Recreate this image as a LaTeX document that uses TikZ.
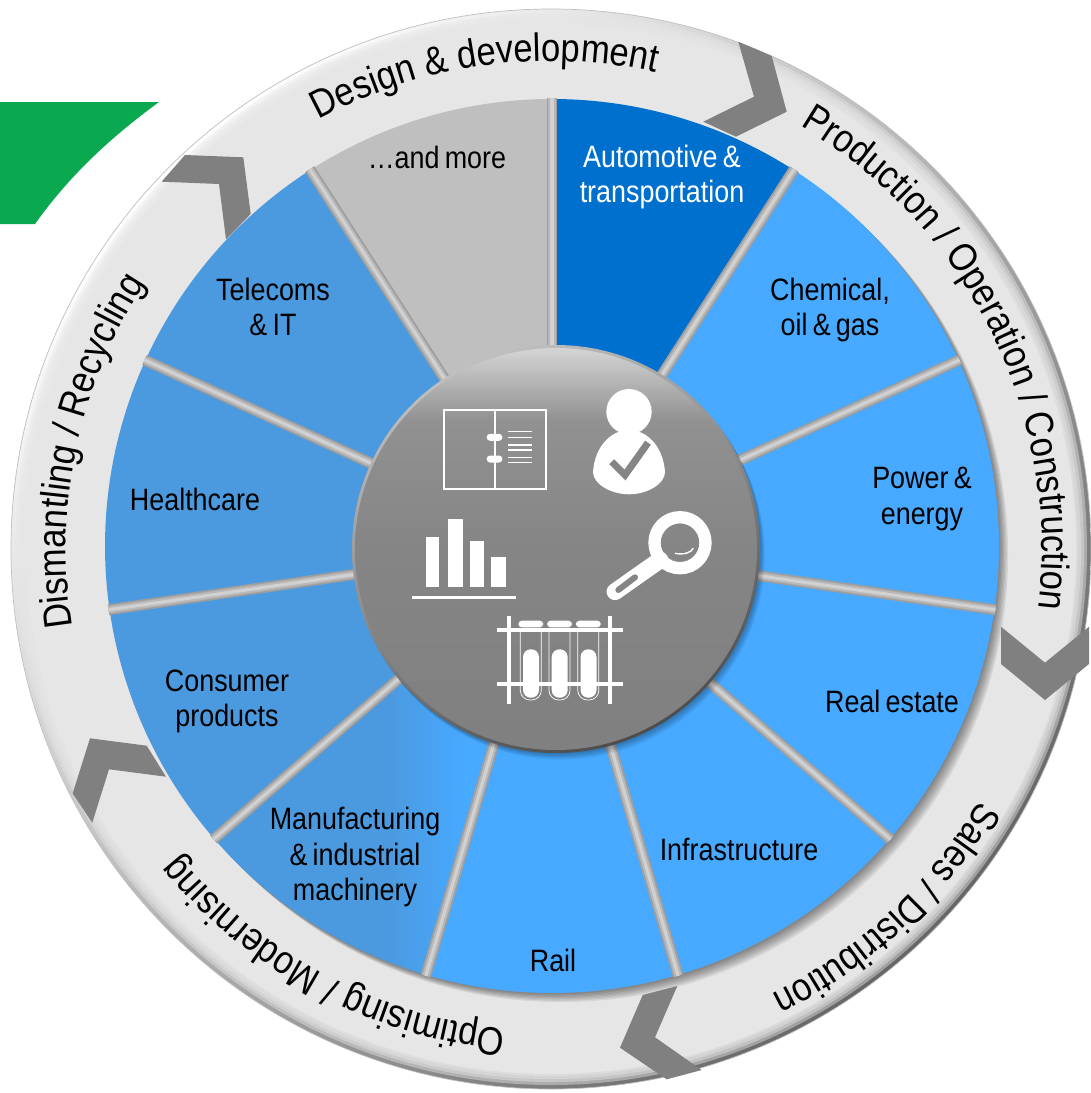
\documentclass[tikz,border=0pt]{standalone}
\usepackage{fontspec}
\setmainfont{Liberation Sans}
\newfontfamily\wheelfont[FakeStretch=0.875]{Liberation Sans}
\newfontfamily\wedgefont[FakeStretch=0.87,WordSpace=0.7]{Liberation Sans}
\usetikzlibrary{decorations.text}

\definecolor{lightwedge}{HTML}{47A9FF}
\definecolor{darkwedge}{HTML}{4B9ADF}
\definecolor{autowedge}{HTML}{0070CF}
\definecolor{greywedge}{HTML}{BFBFBF}
\definecolor{ringface}{HTML}{E6E6E6}
\definecolor{chevrongrey}{HTML}{808080}
\definecolor{hubgrey}{HTML}{858585}
\definecolor{greenband}{HTML}{0AA94F}

\pgfdeclarehorizontalshading{manushade}{100bp}{color(0bp)=(darkwedge); color(51bp)=(darkwedge); color(62bp)=(lightwedge); color(100bp)=(lightwedge)}
\pgfdeclareverticalshading{hubshade}{100bp}{color(0bp)=(hubgrey!92!black); color(50bp)=(hubgrey); color(66bp)=(hubgrey!90!white); color(75bp)=(hubgrey!35!white); color(100bp)=(hubgrey!35!white)}

\tikzset{
    wedgelabel/.style={font=\wedgefont\fontsize{17.6}{20}\selectfont, align=center, inner sep=0pt},
    ringlabel/.style={decorate, decoration={text along path, text align=center, text color=black}},
    chevron/.style={fill=chevrongrey},
    iconline/.style={draw=white, line width=1.4pt},
    iconfill/.style={fill=white}
}
\newcommand{\ringfont}{\wheelfont\fontsize{22.5}{24}\selectfont}

\begin{document}
\begin{tikzpicture}[x=0.02cm, y=-0.02cm]
    \useasboundingbox (0,0) rectangle (1091,1093);

    % Green band behind the wheel
    \fill[greenband] (0,102) -- (159,102) .. controls (110,138) and (70,175) .. (35,224) -- (0,224) -- cycle;

    % Rim and ring face
    \begin{scope}[shift={(551,549)}, y=0.02cm]
        \shade[top color=white, bottom color=black!60, shading angle=45, draw=black!25, line width=0.4pt] (0,0) circle[radius=540];
        \foreach \r in {536,533,530,527} {
            \fill[ringface, opacity=0.45] (0,0) circle[radius=\r];
        }
        \fill[ringface] (0,0) circle[radius=525];
    \end{scope}

    % Shadow of the wedges on the ring
    \begin{scope}[shift={(552,546)}, y=0.02cm]
        \foreach \k in {1,...,7} {
            \fill[black, opacity=0.07] (\k*1.3,-\k*1.3) circle[radius=447];
        }
    \end{scope}

    % Chevrons
    \fill[chevron] (738.3,41.7) -- (771.7,56) -- (786.7,111.7) -- (736,136.7) -- (703.3,121.7) -- (754,96.7) -- cycle;
    \fill[chevron] (1001,626.7) -- (1045,662.7) -- (1089,626.7) -- (1089,664) -- (1045,700) -- (1001,664) -- cycle;
    \fill[chevron] (677.3,986) -- (655,1037.3) -- (701.7,1070) -- (666.7,1079.3) -- (620,1047.7) -- (642.7,995) -- cycle;
    \fill[chevron] (166,776.7) -- (109,769.3) -- (92.3,822.7) -- (72.7,793.3) -- (90,738.3) -- (146.7,745.7) -- cycle;
    \fill[chevron] (185,155) -- (243.3,157.3) -- (250.7,214) -- (226,239.3) -- (219,184) -- (161.7,181.7) -- cycle;

    % Wedges and separators
    \begin{scope}[shift={(552,546)}, y=0.02cm]
        \foreach \a/\wcol in {90/autowedge, 57.273/lightwedge, 24.545/lightwedge, -8.182/lightwedge, -40.909/lightwedge, -73.636/lightwedge, -139.091/darkwedge, -171.818/darkwedge, 155.455/darkwedge, 122.727/greywedge} {
            \fill[\wcol] (0,0) -- (\a:447) arc[start angle=\a, delta angle=-32.727, radius=447] -- cycle;
        }
        \shade[shading=manushade] (0,0) -- (-106.364:447) arc[start angle=-106.364, delta angle=-32.727, radius=447] -- cycle;

        \foreach \a in {90, 57.273, 24.545, -8.182, -40.909, -73.636, -106.364, -139.091, -171.818, 155.455, 122.727} {
            \draw[black!38, line width=6.2pt] (\a:180) -- (\a:448);
            \draw[black!28, line width=4.2pt] (\a:180) -- (\a:448);
            \draw[black!18, line width=1.8pt] (\a:180) -- (\a:448);
        }
    \end{scope}

    % Ring labels
    \begin{scope}[shift={(551,549)}, y=0.02cm]
        \path[ringlabel, decoration={text={|\ringfont|Design {\&} development}}] (126:488) arc[start angle=126, delta angle=-56, radius=488];
        \path[ringlabel, decoration={text={|\ringfont|Production / Operation / Construction}}] (66.3:491) arc[start angle=66.3, delta angle=-80, radius=491];
        \path[ringlabel, decoration={text={|\ringfont|Sales / Distribution}}] (-23:497) arc[start angle=-23, delta angle=-48, radius=497];
        \path[ringlabel, decoration={text={|\ringfont|Optimising / Modernising}}] (272:482) arc[start angle=272, delta angle=-60, radius=482];
        \path[ringlabel, decoration={text={|\ringfont|Dismantling / Recycling}}] (198:485) arc[start angle=198, delta angle=-60, radius=485];
    \end{scope}

    % Hub
    \begin{scope}[shift={(556,549)}, y=0.02cm]
        \foreach \k in {1,...,6} {
            \fill[black, opacity=0.05] (\k*0.8,-\k*1.1) circle[radius=204];
        }
        \shade[top color=black!25, bottom color=black!70, shading angle=25] (0,0) circle[radius=204];
        \shade[shading=hubshade] (0,0) circle[radius=201];
    \end{scope}

    % Book icon
    \draw[iconline] (444,410) rectangle (546,489);
    \draw[iconline] (495,410) -- (495,489);
    \foreach \y in {437.3,459} {
        \fill[iconfill, rounded corners=1.9pt] (486.7,\y-3.5) rectangle (502.3,\y+3.5);
    }
    \foreach \y in {431.7,437.3,445,450,457.3,462.7} {
        \draw[white, line width=0.8pt] (508.3,\y) -- (531.7,\y);
    }

    % Person icon
    \fill[iconfill] (629,411.7) circle[radius=22.7];
    \fill[iconfill] (593,472) .. controls (595,445) and (612,430) .. (629,430) .. controls (646,430) and (663,445) .. (665,472) .. controls (665,484) and (647,494.3) .. (629,494.3) .. controls (611,494.3) and (593,484) .. (593,472);
    \draw[hubgrey, line width=4pt] (611.7,461.7) -- (625,475) -- (648,442.7);

    % Bar chart icon
    \fill[iconfill] (425.7,537.3) rectangle (439.3,587.3);
    \fill[iconfill] (447.7,519) rectangle (462.7,587.3);
    \fill[iconfill] (469.7,540.7) rectangle (483.7,587.3);
    \fill[iconfill] (491.3,556.7) rectangle (506.3,587.3);
    \draw[iconline] (412,597.3) -- (516,597.3);

    % Magnifier icon
    \draw[white, line width=7pt] (680,542.7) circle[radius=25.5];
    \draw[white, line width=9.6pt, line cap=round] (660,560) -- (615,591.7);
    \draw[hubgrey, line width=3.4pt, line cap=round] (618.3,590) -- (635,577.3);
    \draw[white, line width=0.8pt] (675,553.3) .. controls (683,555) and (691,553) .. (693.3,548.3);

    % Test tube icon
    \foreach \x in {509,610} {
        \draw[white, line width=2.2pt] (\x,616) -- (\x,704);
    }
    \foreach \y in {630,684.3} {
        \draw[white, line width=2.2pt] (496.7,\y) -- (623.3,\y);
    }
    \foreach \x in {0,28.7,57.5} {
        \begin{scope}[xshift=\x*0.02cm]
            \fill[iconfill, rounded corners=2pt] (518.3,620.7) rectangle (543.3,627.3);
            \draw[white, line width=0.4pt, rounded corners=5.5pt] (520.3,630) -- (520.3,700) -- (541.3,700) -- (541.3,630);
            \fill[iconfill, rounded corners=4.4pt] (523,649.3) rectangle (539,697.7);
        \end{scope}
    }

    % Wedge labels
    \node[wedgelabel] (more) at (437,157) {\ldots and more};
    \node[wedgelabel, white] (automotive) at (662,177) {Automotive \&\\transportation};
    \node[wedgelabel] (chemical) at (830,310) {Chemical,\\oil \& gas};
    \node[wedgelabel] (power) at (922,499) {Power \&\\energy};
    \node[wedgelabel] (realestate) at (892,701) {Real estate};
    \node[wedgelabel] (infrastructure) at (739,849) {Infrastructure};
    \node[wedgelabel] (rail) at (553,960) {Rail};
    \node[wedgelabel] (manufacturing) at (355,857) {Manufacturing\\\& industrial\\machinery};
    \node[wedgelabel] (consumer) at (227,701) {Consumer\\products};
    \node[wedgelabel] (healthcare) at (195,499) {Healthcare};
    \node[wedgelabel] (telecoms) at (273,307) {Telecoms\\\& IT};
\end{tikzpicture}
\end{document}
